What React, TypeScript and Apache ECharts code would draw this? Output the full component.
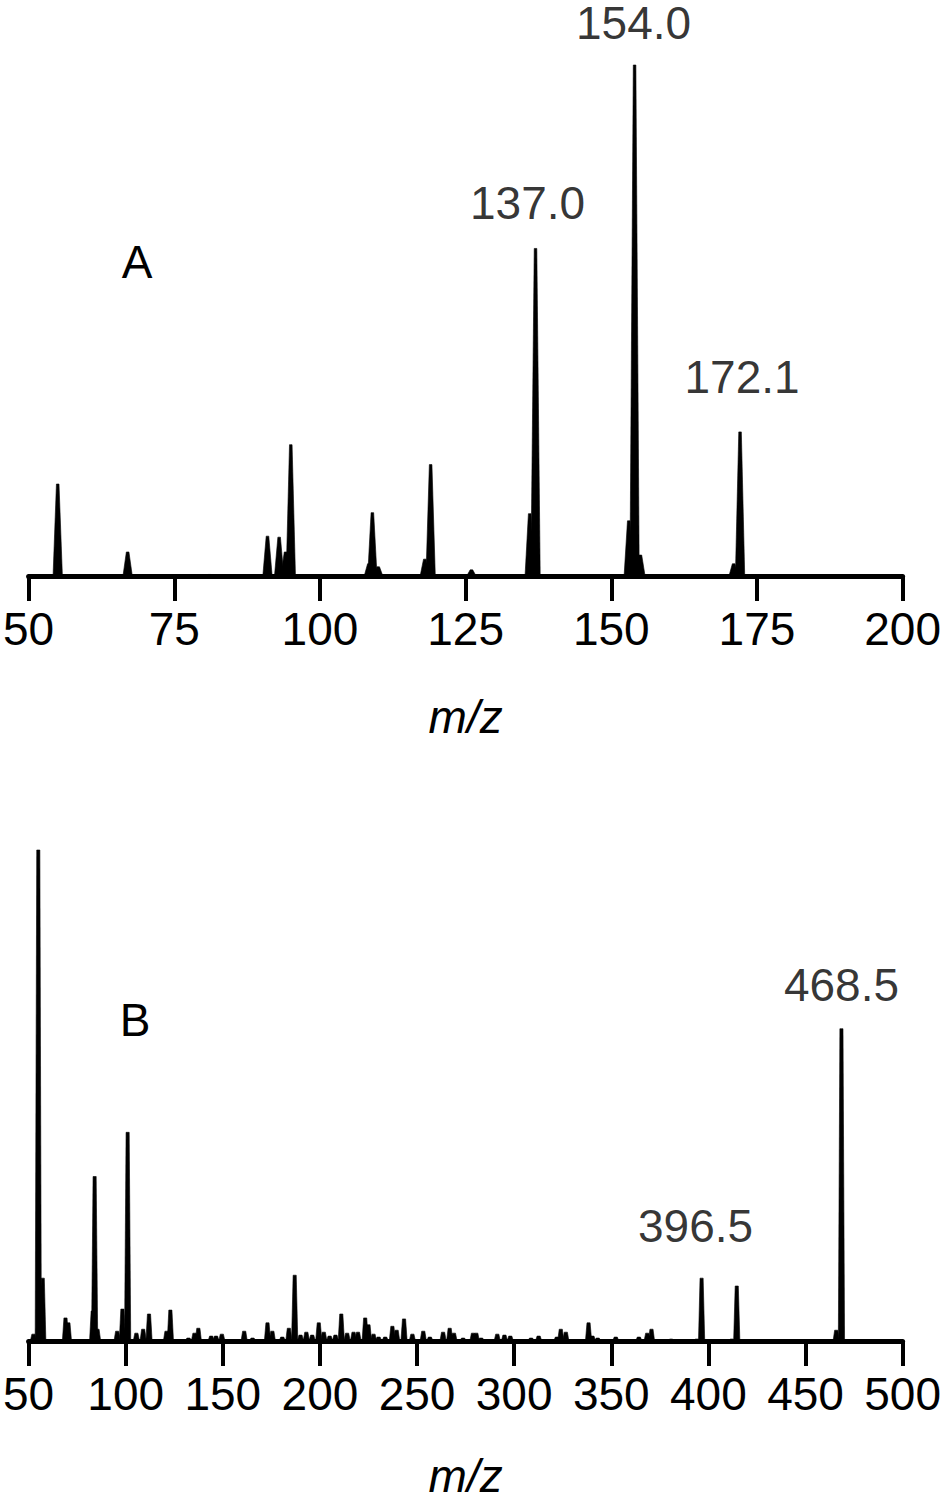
import React, { useEffect, useRef } from "react";
import * as echarts from "echarts";

// ---- Panel A data (relative intensity, %) ----
const mzA = [55, 67, 81, 91, 93, 94.1, 95, 108.4, 109, 110, 118, 119, 126, 136, 137, 153, 154, 155, 171, 172.1];
const intA = [18.0, 4.7, 0.3, 7.8, 7.6, 4.7, 25.7, 2.4, 12.4, 1.8, 3.3, 21.8, 1.2, 12.2, 64.1, 10.8, 100, 4.1, 2.4, 28.2];
const ticksA = [50, 200, 25]; // min, max, interval
const annotA = ["137.0", "154.0", "172.1"];
const annotMzA = [137, 154, 172.1];
const annotIntA = [64.1, 100, 28.2];

// ---- Panel B data (relative intensity, %) ----
const mzB = [
  52.5, 55, 57.3, 69, 70.5, 83, 84, 85.5, 95.6, 98.3, 101, 105.5, 109, 112, 121, 123,
  132.3, 135.4, 137.4, 144, 146.5, 149.5, 161, 165.3, 173, 175.5, 180.6, 184, 187, 190,
  193, 196, 199.4, 202, 205, 208, 211, 214, 217.3, 219.6, 223.3, 225, 227.6, 230.2, 233.6,
  237.3, 239.5, 243.3, 247.6, 253.2, 256.6, 263.4, 266.8, 269, 273.7, 278.8, 280.5, 283,
  291.3, 295, 298, 308.7, 312.6, 322, 324, 326.6, 338.3, 340.3, 343, 352.3, 364.2, 368.5,
  370.7, 380.8, 394, 396.5, 412, 414.6, 465.8, 468.5,
];
const intB = [
  1.4, 100, 12.8, 4.7, 3.7, 6.1, 33.5, 2.4, 2.0, 6.5, 42.5, 1.6, 2.4, 5.5, 2.0, 6.3,
  0.6, 1.6, 2.6, 1.0, 1.0, 1.4, 2.0, 0.6, 3.7, 2.0, 0.8, 2.6, 13.4, 1.2,
  1.8, 1.2, 3.7, 1.8, 1.0, 1.2, 5.5, 1.6, 1.8, 1.8, 4.7, 3.3, 1.4, 0.8, 0.8,
  3.0, 2.2, 4.5, 1.4, 2.0, 0.8, 1.8, 2.6, 1.6, 0.6, 1.6, 1.6, 0.6,
  1.4, 1.2, 1.0, 0.6, 1.0, 0.8, 2.4, 1.8, 3.7, 1.0, 0.6, 0.8, 0.8, 1.6,
  2.4, 0.4, 0.4, 12.8, 0.4, 11.2, 2.2, 63.6,
];
const ticksB = [50, 500, 50];
const annotB = ["396.5", "468.5"];
const annotMzB = [396.5, 468.5];
const annotIntB = [12.8, 63.6];

const panelLetters = ["A", "B"];
const axisTitle = "m/z";

// ---- styling ----
const FONT = '"Liberation Sans", Arial, Helvetica, sans-serif';
const FS = 46;
const labelTweak: Record<string, [number, number]> = {
  "137.0": [-8, 22],
  "154.0": [-1, 19],
  "172.1": [2, 31],
  "396.5": [-6, 29],
  "468.5": [0, 20],
};

const peakRenderer = (bh: number, th: number) => (_params: any, api: any) => {
  const m = api.value(0);
  const h = api.value(1);
  const b0 = api.coord([m - bh, 0]);
  const b1 = api.coord([m + bh, 0]);
  const t0 = api.coord([m - th, h]);
  const t1 = api.coord([m + th, h]);
  return {
    type: "polygon",
    shape: { points: [b0, t0, t1, b1] },
    style: { fill: "#000", stroke: "#000", lineWidth: 0.6 },
  };
};

const makeXAxis = (ticks: number[], grid: number, gap: number) => ({
  type: "value",
  gridIndex: grid,
  min: ticks[0],
  max: ticks[1],
  interval: ticks[2],
  name: axisTitle,
  nameLocation: "middle",
  nameGap: gap,
  nameTextStyle: { fontSize: FS, fontStyle: "italic", color: "#000", fontFamily: FONT },
  axisLine: { show: true, lineStyle: { color: "#000", width: 5 } },
  axisTick: { show: true, length: 25, lineStyle: { color: "#000", width: 4 } },
  axisLabel: { margin: 30, fontSize: FS, color: "#000", fontFamily: FONT, showMinLabel: true, showMaxLabel: true, hideOverlap: false },
  splitLine: { show: false },
});

const makeYAxis = (grid: number) => ({
  type: "value",
  gridIndex: grid,
  min: 0,
  max: 100,
  show: false,
});

const annotSeries = (names: string[], mz: number[], ints: number[], idx: number) => ({
  type: "scatter",
  xAxisIndex: idx,
  yAxisIndex: idx,
  symbolSize: 1,
  itemStyle: { color: "rgba(0,0,0,0)" },
  silent: true,
  z: 5,
  data: names.map((n, i) => ({
    name: n,
    value: [mz[i], ints[i]],
    label: {
      show: true,
      position: "top",
      offset: [labelTweak[n][0], 0],
      distance: labelTweak[n][1],
      formatter: "{b}",
      fontSize: FS,
      color: "#000",
      fontFamily: FONT,
    },
  })),
});

export default function App() {
  const ref = useRef<HTMLDivElement>(null);
  useEffect(() => {
    if (!ref.current) return;
    const chart = echarts.init(ref.current, undefined, { renderer: "svg" });
    const option: any = {
      animation: false,
      backgroundColor: "#fff",
      grid: [
        { left: 25, right: 41, top: 65, bottom: 924 },
        { left: 25, right: 41, top: 850, bottom: 157 },
      ],
      xAxis: [makeXAxis(ticksA, 0, 118), makeXAxis(ticksB, 1, 112)],
      yAxis: [makeYAxis(0), makeYAxis(1)],
      series: [
        {
          type: "custom",
          xAxisIndex: 0,
          yAxisIndex: 0,
          renderItem: peakRenderer(0.8, 0.22),
          data: mzA.map((m, i) => [m, intA[i]]),
          clip: false,
        },
        {
          type: "custom",
          xAxisIndex: 1,
          yAxisIndex: 1,
          renderItem: peakRenderer(1.6, 0.8),
          data: mzB.map((m, i) => [m, intB[i]]),
          clip: false,
        },
        annotSeries(annotA, annotMzA, annotIntA, 0),
        annotSeries(annotB, annotMzB, annotIntB, 1),
      ],
      graphic: [
        {
          type: "text",
          x: 137,
          y: 262,
          style: { text: panelLetters[0], font: `${FS}px ${FONT}`, fill: "#000", textAlign: "center", textVerticalAlign: "middle" },
        },
        {
          type: "text",
          x: 135,
          y: 1020,
          style: { text: panelLetters[1], font: `${FS}px ${FONT}`, fill: "#000", textAlign: "center", textVerticalAlign: "middle" },
        },
      ],
    };
    chart.setOption(option);
    return () => chart.dispose();
  }, []);
  return (
    <div
      ref={ref}
      style={{ position: "absolute", left: 0, top: 0, width: 944, height: 1500, background: "#fff" }}
    />
  );
}
